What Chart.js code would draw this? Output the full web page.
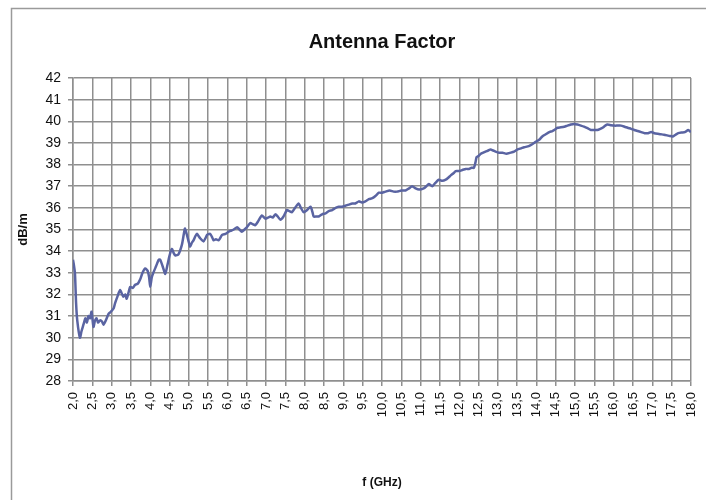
<!DOCTYPE html>
<html>
<head>
<meta charset="utf-8">
<script src="https://cdn.jsdelivr.net/npm/chart.js@4/dist/chart.umd.min.js"></script>
<style>
  html, body { margin: 0; padding: 0; background: #fff; }
  canvas { display: block; }
</style>
</head>
<body>
<canvas id="afChart" width="706" height="500"></canvas>
<script>
const chartTitle = 'Antenna Factor';
const yAxisTitle = 'dB/m';
const xAxisTitle = 'f (GHz)';

// frequency in GHz
const freqGHz = [
  2.00, 2.02, 2.05, 2.08, 2.11, 2.18, 2.22, 2.27, 2.32, 2.36, 2.40, 2.44, 2.48, 2.53, 2.57, 2.61, 2.65, 2.70, 2.75, 2.79,
  2.85, 2.92, 2.98, 3.05, 3.09, 3.15, 3.22, 3.30, 3.35, 3.39, 3.44, 3.48, 3.55, 3.61, 3.68, 3.74, 3.80, 3.87, 3.93, 3.97,
  4.00, 4.04, 4.08, 4.15, 4.22, 4.26, 4.32, 4.39, 4.45, 4.50, 4.56, 4.61, 4.65, 4.73, 4.82, 4.87, 4.90, 4.95, 5.00, 5.03,
  5.08, 5.12, 5.17, 5.21, 5.25, 5.29, 5.38, 5.43, 5.47, 5.55, 5.60, 5.64, 5.70, 5.77, 5.86, 5.95, 6.03, 6.10, 6.16, 6.25,
  6.31, 6.37, 6.44, 6.50, 6.59, 6.65, 6.72, 6.80, 6.89, 6.98, 7.05, 7.11, 7.17, 7.24, 7.30, 7.37, 7.45, 7.54, 7.60, 7.67,
  7.75, 7.84, 7.90, 7.97, 8.06, 8.15, 8.20, 8.23, 8.30, 8.36, 8.45, 8.54, 8.62, 8.71, 8.80, 8.88, 8.97, 9.05, 9.14, 9.23,
  9.31, 9.40, 9.48, 9.57, 9.66, 9.75, 9.83, 9.92, 10.00, 10.09, 10.20, 10.30, 10.39, 10.50, 10.61, 10.70, 10.78, 10.87, 10.96, 11.08,
  11.15, 11.21, 11.30, 11.38, 11.47, 11.56, 11.65, 11.72, 11.78, 11.85, 11.91, 12.00, 12.08, 12.17, 12.25, 12.32, 12.38, 12.42, 12.45, 12.50,
  12.56, 12.62, 12.68, 12.75, 12.81, 12.88, 12.94, 13.03, 13.12, 13.22, 13.33, 13.42, 13.51, 13.60, 13.68, 13.80, 13.90, 13.98, 14.07, 14.15,
  14.24, 14.33, 14.41, 14.48, 14.54, 14.63, 14.72, 14.80, 14.89, 14.97, 15.06, 15.15, 15.23, 15.32, 15.41, 15.50, 15.58, 15.65, 15.71, 15.78,
  15.84, 15.93, 16.01, 16.10, 16.19, 16.28, 16.36, 16.45, 16.53, 16.62, 16.71, 16.80, 16.89, 16.97, 17.05, 17.14, 17.22, 17.30, 17.38, 17.45,
  17.53, 17.60, 17.67, 17.75, 17.84, 17.93, 18.00
];

// antenna factor in dB/m
const afDbPerM = [
  33.6, 33.4, 33.0, 31.6, 30.8, 30.0, 30.3, 30.6, 30.9, 30.7, 31.0, 30.9, 31.2, 30.5, 30.8, 30.9, 30.7, 30.8, 30.75, 30.6,
  30.8, 31.1, 31.2, 31.35, 31.6, 31.9, 32.2, 31.9, 32.0, 31.8, 32.1, 32.35, 32.3, 32.45, 32.5, 32.7, 33.0, 33.2, 33.1, 32.8,
  32.35, 32.8, 33.0, 33.3, 33.6, 33.6, 33.3, 32.95, 33.4, 33.8, 34.1, 33.9, 33.8, 33.85, 34.3, 34.8, 35.05, 34.75, 34.4, 34.2,
  34.4, 34.5, 34.7, 34.8, 34.7, 34.6, 34.45, 34.6, 34.75, 34.8, 34.65, 34.5, 34.55, 34.5, 34.75, 34.8, 34.9, 34.95, 35.0, 35.1,
  35.0, 34.9, 35.0, 35.1, 35.3, 35.25, 35.2, 35.4, 35.65, 35.5, 35.55, 35.6, 35.55, 35.7, 35.6, 35.45, 35.6, 35.9, 35.85, 35.8,
  36.0, 36.2, 36.0, 35.8, 35.9, 36.05, 35.8, 35.6, 35.6, 35.6, 35.7, 35.75, 35.85, 35.9, 36.0, 36.05, 36.05, 36.1, 36.15, 36.2,
  36.2, 36.3, 36.25, 36.3, 36.4, 36.45, 36.55, 36.7, 36.7, 36.75, 36.8, 36.75, 36.75, 36.8, 36.8, 36.9, 37.0, 36.9, 36.85, 36.9,
  37.0, 37.1, 37.0, 37.15, 37.3, 37.25, 37.3, 37.4, 37.5, 37.6, 37.7, 37.7, 37.75, 37.8, 37.8, 37.85, 37.85, 38.1, 38.35, 38.4,
  38.5, 38.55, 38.6, 38.65, 38.7, 38.65, 38.6, 38.55, 38.55, 38.5, 38.55, 38.6, 38.7, 38.75, 38.8, 38.85, 38.95, 39.05, 39.15, 39.3,
  39.4, 39.5, 39.55, 39.62, 39.7, 39.72, 39.75, 39.8, 39.85, 39.88, 39.85, 39.8, 39.75, 39.68, 39.6, 39.6, 39.6, 39.65, 39.7, 39.8,
  39.85, 39.82, 39.8, 39.8, 39.8, 39.75, 39.7, 39.65, 39.6, 39.55, 39.5, 39.45, 39.45, 39.5, 39.45, 39.42, 39.4, 39.38, 39.35, 39.32,
  39.3, 39.38, 39.45, 39.48, 39.5, 39.6, 39.5
];

const xMin = 2, xMax = 18, xStep = 0.5;
const yMin = 28, yMax = 42, yStep = 1;

const points = freqGHz.map((f, i) => ({ x: f, y: afDbPerM[i] }));

const gridColor = '#8f8f8f';
const fontFamily = '"Liberation Sans", Arial, sans-serif';

// thin grey frame around the chart, like the spreadsheet chart object
const framePlugin = {
  id: 'frame',
  beforeDraw(chart) {
    const ctx = chart.ctx;
    ctx.save();
    ctx.strokeStyle = '#9a9a9a';
    ctx.lineWidth = 1.5;
    ctx.beginPath();
    ctx.moveTo(11.5, 600);
    ctx.lineTo(11.5, 8.5);
    ctx.lineTo(800, 8.5);
    ctx.stroke();
    ctx.restore();
  }
};

// title centred over the plot area rather than the whole canvas
const plotTitlePlugin = {
  id: 'plotTitle',
  afterDraw(chart) {
    const { ctx, chartArea } = chart;
    ctx.save();
    ctx.fillStyle = '#111';
    ctx.font = 'bold 20px ' + fontFamily;
    ctx.textAlign = 'center';
    ctx.textBaseline = 'middle';
    ctx.fillText(chartTitle, (chartArea.left + chartArea.right) / 2, 42);
    ctx.restore();
  }
};

new Chart(document.getElementById('afChart'), {
  type: 'line',
  data: {
    datasets: [{
      label: chartTitle,
      data: points,
      borderColor: '#5a64a2',
      borderWidth: 2.5,
      pointRadius: 0,
      tension: 0.2,
      fill: false
    }]
  },
  options: {
    responsive: false,
    animation: false,
    layout: { padding: { left: 16, right: 15, top: 78, bottom: 6 } },
    plugins: {
      legend: { display: false },
      tooltip: { enabled: false },
      title: { display: false }
    },
    scales: {
      x: {
        type: 'linear',
        min: xMin,
        max: xMax,
        afterFit(scale) {
          scale.height = 113;
          scale.paddingLeft = 0;
          scale.paddingRight = 0;
        },
        ticks: {
          stepSize: xStep,
          autoSkip: false,
          minRotation: 90,
          maxRotation: 90,
          padding: 6,
          color: '#111',
          font: { family: fontFamily, size: 13 },
          callback: v => v.toFixed(1).replace('.', ',')
        },
        grid: { color: gridColor, lineWidth: 1.5, tickLength: 5 },
        border: { color: gridColor, width: 1.5 },
        title: {
          display: true,
          text: xAxisTitle,
          color: '#111',
          font: { family: fontFamily, size: 12, weight: 'bold' },
          padding: { top: 4, bottom: 4 }
        }
      },
      y: {
        min: yMin,
        max: yMax,
        afterFit(scale) { scale.width = 57; },
        ticks: {
          stepSize: yStep,
          padding: 7,
          color: '#111',
          font: { family: fontFamily, size: 14 }
        },
        grid: { color: gridColor, lineWidth: 1.5, tickLength: 5 },
        border: { color: gridColor, width: 1.5 },
        title: {
          display: true,
          text: yAxisTitle,
          color: '#111',
          font: { family: fontFamily, size: 13, weight: 'bold' },
          padding: { top: 0, bottom: 2 }
        }
      }
    }
  },
  plugins: [framePlugin, plotTitlePlugin]
});
</script>
</body>
</html>
